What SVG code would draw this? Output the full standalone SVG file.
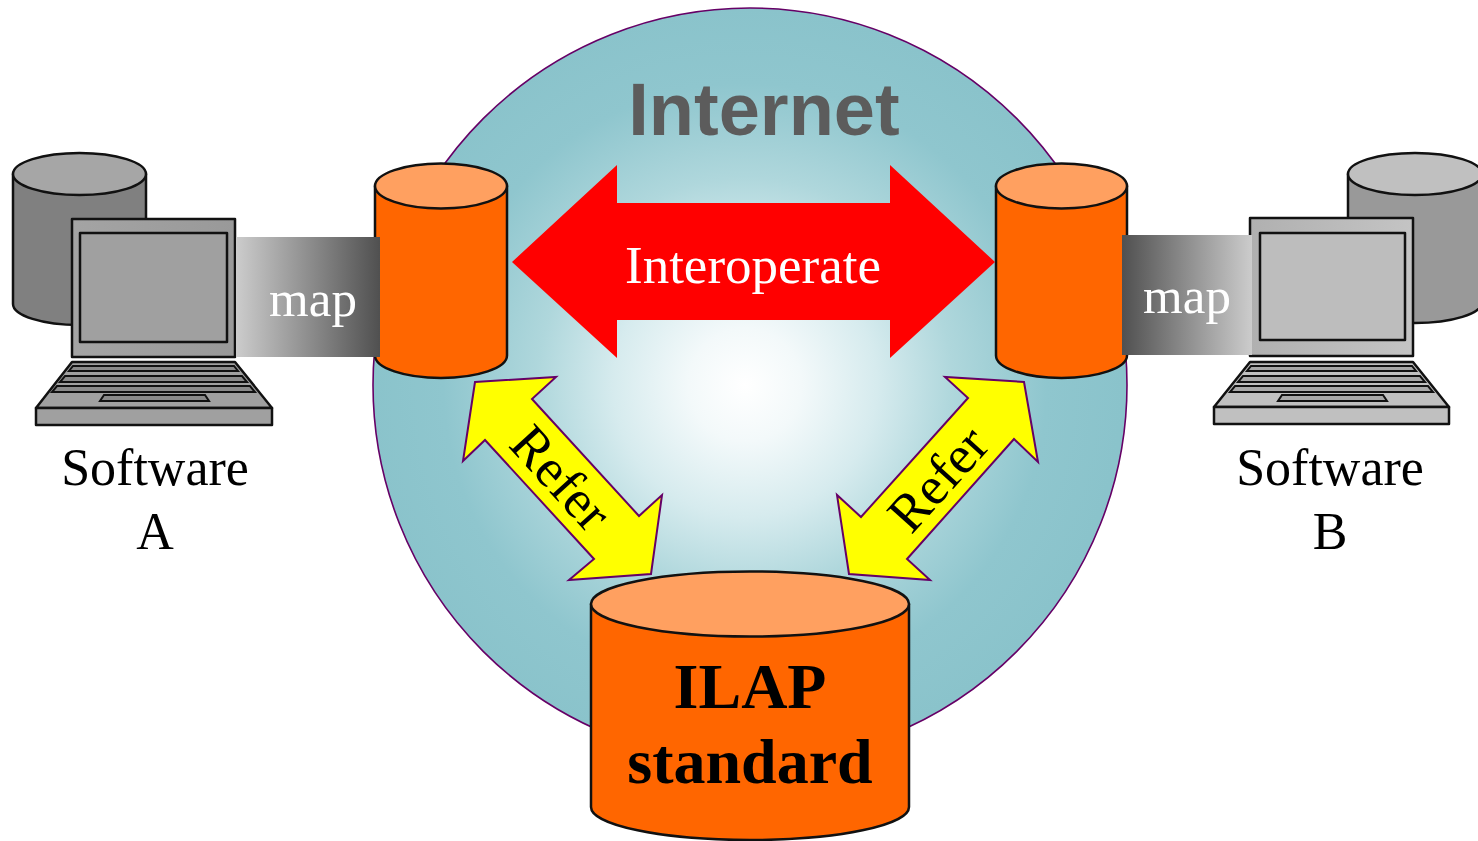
<svg xmlns="http://www.w3.org/2000/svg" width="1478" height="841" viewBox="0 0 1478 841">
  <defs>
    <radialGradient id="sky" gradientUnits="userSpaceOnUse" cx="745" cy="385" r="377">
      <stop offset="0" stop-color="#ffffff"/>
      <stop offset="0.15" stop-color="#f3f9fa"/>
      <stop offset="0.35" stop-color="#d6ebee"/>
      <stop offset="0.55" stop-color="#afd7dc"/>
      <stop offset="0.8" stop-color="#8fc6ce"/>
      <stop offset="1" stop-color="#8ac3cb"/>
    </radialGradient>
    <linearGradient id="mapL" x1="0" y1="0" x2="1" y2="0">
      <stop offset="0" stop-color="#cccccc"/>
      <stop offset="1" stop-color="#505050"/>
    </linearGradient>
    <linearGradient id="mapR" x1="0" y1="0" x2="1" y2="0">
      <stop offset="0" stop-color="#505050"/>
      <stop offset="1" stop-color="#cccccc"/>
    </linearGradient>
    <linearGradient id="monL" x1="0" y1="0" x2="1" y2="0">
      <stop offset="0" stop-color="#a4a4a4"/>
      <stop offset="1" stop-color="#999999"/>
    </linearGradient>
    <linearGradient id="monR" x1="0" y1="0" x2="1" y2="0">
      <stop offset="0" stop-color="#b0b0b0"/>
      <stop offset="1" stop-color="#c4c4c4"/>
    </linearGradient>
    <style>
      .edge { stroke: #111; stroke-width: 2.5; stroke-linejoin: round; }
      .thin { stroke: #111; stroke-width: 2; }
      .orange { fill: #ff6600; }
      .orangeTop { fill: #ffa060; }
      .serif { font-family: "Liberation Serif", "Times New Roman", serif; }
      .label { font-family: "Liberation Serif", "Times New Roman", serif; font-size: 52px; fill: #000; text-anchor: middle; }
      .map { font-family: "Liberation Serif", "Times New Roman", serif; font-size: 51px; fill: #ffffff; text-anchor: middle; }
      .yellow { fill: #ffff00; stroke: #660066; stroke-width: 2; stroke-linejoin: miter; }
    </style>
  </defs>

  <!-- Internet sphere -->
  <g id="internet">
    <circle cx="750" cy="385" r="377" fill="url(#sky)" stroke="#660066" stroke-width="1.6"/>
    <text x="764" y="135" font-family="Liberation Sans, Arial, sans-serif" font-weight="bold" font-size="74" fill="#5c5c5c" text-anchor="middle">Internet</text>
  </g>

  <!-- Software A: database + laptop -->
  <g id="software-a">
    <path d="M13,174 V304 A66.5,21 0 0 0 146,304 V174 Z" fill="#808080" class="edge"/>
    <ellipse cx="79.5" cy="174" rx="66.5" ry="21" fill="#a6a6a6" class="edge"/>
    <rect x="72" y="219" width="163" height="138" fill="url(#monL)" class="edge"/>
    <rect x="80" y="233" width="147" height="109" fill="#a0a0a0" class="edge"/>
    <polygon points="72,362 235,362 272,408 36,408" fill="#a0a0a0" class="edge"/>
    <rect x="36" y="408" width="236" height="17" fill="#a0a0a0" class="edge"/>
    <polygon points="73,366 234,366 238,371 69,371" fill="#8a8a8a" class="thin"/>
    <polygon points="65,376 242,376 247,382 60,382" fill="#8a8a8a" class="thin"/>
    <polygon points="57,386 250,386 255,392 52,392" fill="#8a8a8a" class="thin"/>
    <polygon points="104,395 205,395 209,401 100,401" fill="#8a8a8a" class="thin"/>
    <text x="155" y="485" class="label">Software</text>
    <text x="155" y="549" class="label">A</text>
  </g>

  <!-- Software B: database + laptop -->
  <g id="software-b">
    <path d="M1348,174 V302 A67,21 0 0 0 1482,302 V174 Z" fill="#999999" class="edge"/>
    <ellipse cx="1415" cy="174" rx="67" ry="21" fill="#c0c0c0" class="edge"/>
    <rect x="1250" y="218" width="163" height="138" fill="url(#monR)" class="edge"/>
    <rect x="1260" y="233" width="145" height="107" fill="#bdbdbd" class="edge"/>
    <polygon points="1250,362 1413,362 1449,407 1214,407" fill="#c0c0c0" class="edge"/>
    <rect x="1214" y="407" width="235" height="17" fill="#c0c0c0" class="edge"/>
    <polygon points="1251,366 1412,366 1416,371 1247,371" fill="#a8a8a8" class="thin"/>
    <polygon points="1243,376 1420,376 1425,382 1238,382" fill="#a8a8a8" class="thin"/>
    <polygon points="1235,386 1428,386 1433,392 1230,392" fill="#a8a8a8" class="thin"/>
    <polygon points="1282,395 1383,395 1387,401 1278,401" fill="#a8a8a8" class="thin"/>
    <text x="1330" y="485" class="label">Software</text>
    <text x="1330" y="549" class="label">B</text>
  </g>

  <!-- Local model stores -->
  <g id="store-a">
    <path d="M375,186 V355.5 A66,22.5 0 0 0 507,355.5 V186 Z" class="orange edge"/>
    <ellipse cx="441" cy="186" rx="66" ry="22.5" class="orangeTop edge"/>
  </g>
  <g id="store-b">
    <path d="M996,186 V355.5 A65.5,22.5 0 0 0 1127,355.5 V186 Z" class="orange edge"/>
    <ellipse cx="1061.5" cy="186" rx="65.5" ry="22.5" class="orangeTop edge"/>
  </g>

  <!-- Connectors -->
  <g id="connectors">
    <rect x="236" y="237" width="144" height="120" fill="url(#mapL)"/>
    <text x="313" y="316" class="map">map</text>
    <rect x="1122" y="235" width="130" height="120" fill="url(#mapR)"/>
    <text x="1187" y="313" class="map">map</text>

    <polygon points="512,262 617,165 617,203 890,203 890,165 995,262 890,358 890,320 617,320 617,358" fill="#ff0000"/>
    <text x="753" y="283" class="serif" font-size="53" fill="#ffffff" text-anchor="middle">Interoperate</text>

    <polygon class="yellow" points="475,382 556,377 532,399 639,516 662,495 651,574 569,580 594,559 485,440 463,461"/>
    <text transform="translate(561,478) rotate(47.6)" y="18" class="serif" font-size="54" text-anchor="middle">Refer</text>

    <polygon class="yellow" points="1024,382 1038,462 1014,439 907,559 930,580 849,574 837,495 861,517 968,398 945,377"/>
    <text transform="translate(938,479) rotate(-48)" y="18" class="serif" font-size="54" text-anchor="middle">Refer</text>
  </g>

  <!-- ILAP standard store -->
  <g id="ilap">
    <path d="M591,604 V807 A159,33 0 0 0 909,807 V604 Z" class="orange edge"/>
    <ellipse cx="750" cy="604" rx="159" ry="32.5" class="orangeTop edge"/>
    <text x="750" y="708" class="serif" font-size="64" font-weight="bold" text-anchor="middle">ILAP</text>
    <text x="750" y="783" class="serif" font-size="64" font-weight="bold" text-anchor="middle">standard</text>
  </g>
</svg>
